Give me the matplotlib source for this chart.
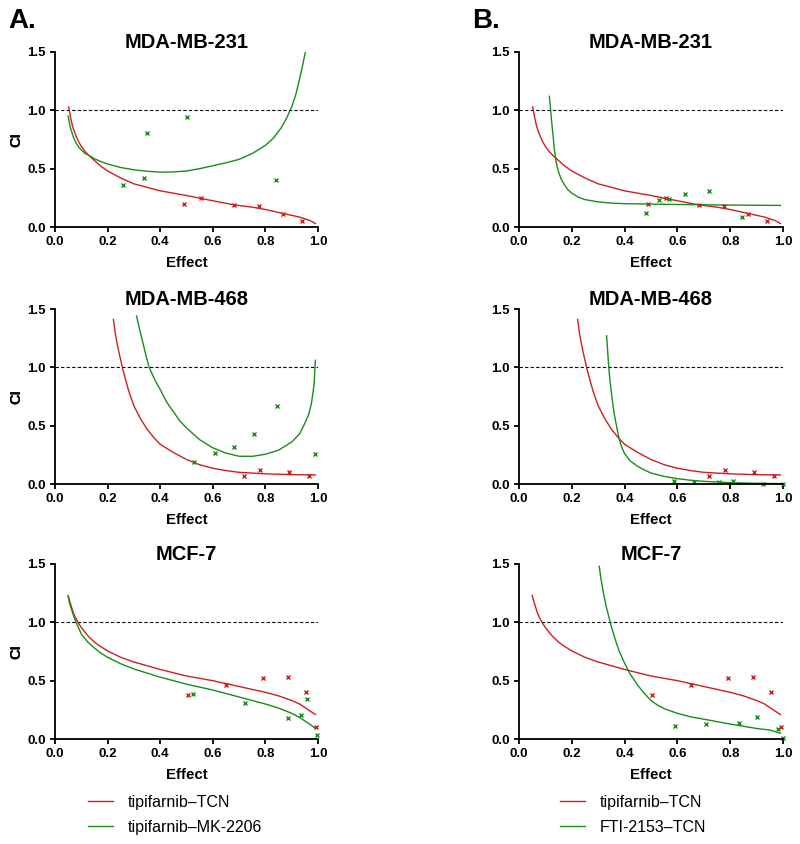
import matplotlib.pyplot as plt

plt.rcParams['font.family'] = ['Liberation Sans', 'DejaVu Sans']

RED = '#cc1f1f'
GREEN = '#1a8c1a'

cells = ['MDA-MB-231', 'MDA-MB-468', 'MCF-7']

# tipifarnib-TCN (same in A and B), curve
tcn_curve_f = [
    [0.052, 0.055, 0.06, 0.065, 0.07, 0.08, 0.09, 0.10, 0.115, 0.13, 0.15, 0.175, 0.20, 0.25, 0.30,
     0.35, 0.40, 0.45, 0.50, 0.555, 0.60, 0.68, 0.75, 0.80, 0.87, 0.90, 0.93, 0.95, 0.97, 0.99],
    [0.222, 0.23, 0.24, 0.256, 0.27, 0.28, 0.30, 0.325, 0.35, 0.375, 0.40, 0.45, 0.50, 0.55, 0.60,
     0.65, 0.70, 0.80, 0.90, 0.99],
    [0.05, 0.055, 0.06, 0.07, 0.08, 0.09, 0.10, 0.125, 0.15, 0.175, 0.20, 0.25, 0.30, 0.40, 0.50,
     0.60, 0.70, 0.80, 0.85, 0.90, 0.93, 0.95, 0.97, 0.99],
]
tcn_curve_ci = [
    [1.03, 0.99, 0.93, 0.88, 0.84, 0.78, 0.73, 0.69, 0.645, 0.61, 0.57, 0.52, 0.48, 0.42, 0.37,
     0.34, 0.31, 0.29, 0.27, 0.245, 0.225, 0.19, 0.17, 0.15, 0.115, 0.10, 0.085, 0.07, 0.055, 0.03],
    [1.41, 1.28, 1.16, 1.00, 0.88, 0.80, 0.67, 0.56, 0.47, 0.40, 0.34, 0.27, 0.21, 0.165, 0.135,
     0.115, 0.10, 0.087, 0.08, 0.078],
    [1.23, 1.19, 1.15, 1.08, 1.03, 0.99, 0.955, 0.885, 0.83, 0.79, 0.755, 0.70, 0.66, 0.596, 0.54,
     0.50, 0.45, 0.40, 0.37, 0.33, 0.30, 0.27, 0.24, 0.21],
]
tcn_pts_f = [
    [0.49, 0.555, 0.68, 0.776, 0.868, 0.938],
    [0.72, 0.78, 0.89, 0.966],
    [0.504, 0.65, 0.79, 0.887, 0.956, 0.994],
]
tcn_pts_ci = [
    [0.20, 0.245, 0.19, 0.18, 0.114, 0.054],
    [0.07, 0.12, 0.10, 0.065],
    [0.38, 0.46, 0.52, 0.53, 0.40, 0.105],
]

# tipifarnib-MK-2206 (panel A)
mk_curve_f = [
    [0.05, 0.055, 0.06, 0.07, 0.08, 0.09, 0.10, 0.115, 0.135, 0.15, 0.175, 0.20, 0.25, 0.30, 0.35,
     0.40, 0.45, 0.50, 0.55, 0.60, 0.65, 0.70, 0.75, 0.80, 0.83, 0.86, 0.88, 0.90, 0.915, 0.93,
     0.94, 0.952],
    [0.31, 0.32, 0.33, 0.345, 0.358, 0.38, 0.40, 0.425, 0.45, 0.475, 0.50, 0.55, 0.60, 0.65, 0.70,
     0.75, 0.80, 0.85, 0.90, 0.93, 0.95, 0.965, 0.975, 0.985, 0.99],
    [0.05, 0.055, 0.06, 0.07, 0.08, 0.09, 0.10, 0.125, 0.15, 0.175, 0.20, 0.25, 0.30, 0.40, 0.50,
     0.60, 0.70, 0.80, 0.85, 0.90, 0.93, 0.95, 0.97, 0.99],
]
mk_curve_ci = [
    [0.95, 0.89, 0.84, 0.77, 0.72, 0.685, 0.66, 0.63, 0.605, 0.585, 0.56, 0.54, 0.51, 0.49, 0.478,
     0.47, 0.472, 0.48, 0.50, 0.525, 0.55, 0.58, 0.63, 0.70, 0.76, 0.85, 0.93, 1.03, 1.13, 1.27,
     1.37, 1.50],
    [1.44, 1.34, 1.25, 1.11, 1.00, 0.89, 0.81, 0.70, 0.62, 0.54, 0.48, 0.38, 0.31, 0.265, 0.238,
     0.237, 0.255, 0.29, 0.36, 0.43, 0.52, 0.60, 0.69, 0.85, 1.06],
    [1.22, 1.17, 1.13, 1.06, 1.00, 0.95, 0.90, 0.83, 0.78, 0.735, 0.70, 0.645, 0.60, 0.53, 0.47,
     0.42, 0.36, 0.30, 0.265, 0.22, 0.185, 0.155, 0.125, 0.09],
]
mk_pts_f = [
    [0.26, 0.34, 0.35, 0.50, 0.84],
    [0.53, 0.61, 0.68, 0.756, 0.846, 0.987],
    [0.523, 0.724, 0.887, 0.937, 0.96, 0.996],
]
mk_pts_ci = [
    [0.36, 0.42, 0.81, 0.94, 0.40],
    [0.19, 0.27, 0.32, 0.43, 0.67, 0.26],
    [0.39, 0.305, 0.177, 0.21, 0.34, 0.034],
]

# FTI-2153-TCN (panel B)
fti_curve_f = [
    [0.115, 0.118, 0.12, 0.123, 0.126, 0.13, 0.133, 0.136, 0.14, 0.145, 0.15, 0.16, 0.17, 0.185,
     0.20, 0.225, 0.25, 0.30, 0.35, 0.40, 0.50, 0.60, 0.80, 0.99],
    [0.332, 0.336, 0.34, 0.345, 0.35, 0.36, 0.37, 0.38, 0.39, 0.40, 0.42, 0.45, 0.475, 0.50, 0.55,
     0.60, 0.65, 0.70, 0.80, 0.90, 1.00],
    [0.304, 0.31, 0.32, 0.33, 0.34, 0.35, 0.365, 0.38, 0.40, 0.42, 0.45, 0.475, 0.50, 0.525, 0.55,
     0.60, 0.65, 0.70, 0.80, 0.90, 0.95, 0.99],
]
fti_curve_ci = [
    [1.12, 1.05, 1.00, 0.92, 0.85, 0.76, 0.69, 0.63, 0.57, 0.51, 0.47, 0.41, 0.37, 0.32,
     0.29, 0.255, 0.235, 0.215, 0.205, 0.20, 0.196, 0.193, 0.188, 0.185],
    [1.27, 1.13, 1.00, 0.88, 0.78, 0.61, 0.49, 0.38, 0.31, 0.26, 0.20, 0.15, 0.12, 0.094, 0.065,
     0.046, 0.032, 0.023, 0.011, 0.006, 0.003],
    [1.48, 1.38, 1.25, 1.14, 1.05, 0.96, 0.85, 0.75, 0.65, 0.56, 0.46, 0.39, 0.33, 0.29, 0.26,
     0.22, 0.19, 0.17, 0.128, 0.09, 0.077, 0.05],
]
fti_pts_f = [
    [0.48, 0.53, 0.57, 0.63, 0.72, 0.846],
    [0.587, 0.663, 0.756, 0.81, 0.924, 1.0],
    [0.59, 0.71, 0.835, 0.90, 0.98, 1.0],
]
fti_pts_ci = [
    [0.12, 0.23, 0.24, 0.28, 0.31, 0.09],
    [0.023, 0.02, 0.015, 0.023, 0.003, 0.003],
    [0.11, 0.13, 0.134, 0.19, 0.083, 0.006],
]

W, H = 800, 844
fig = plt.figure(figsize=(W / 100, H / 100), dpi=100)

col_left = [55, 519]
col_width = [263, 264]
row_top = [52, 309, 564]
row_h = 175

combos = [
    ('tipifarnib\u2013MK-2206', mk_curve_f, mk_curve_ci, mk_pts_f, mk_pts_ci),
    ('FTI-2153\u2013TCN', fti_curve_f, fti_curve_ci, fti_pts_f, fti_pts_ci),
]

for c, (gname, gcf, gcci, gpf, gpci) in enumerate(combos):
    for r, cell in enumerate(cells):
        ax = fig.add_axes([col_left[c] / W, 1 - (row_top[r] + row_h) / H,
                           col_width[c] / W, row_h / H])
        ax.axhline(1.0, color='black', lw=0.8, ls=(0, (3, 2)), zorder=1)
        l1, = ax.plot(tcn_curve_f[r], tcn_curve_ci[r], color=RED, lw=1.0,
                      label='tipifarnib\u2013TCN')
        l2, = ax.plot(gcf[r], gcci[r], color=GREEN, lw=1.0, label=gname)
        ax.plot(tcn_pts_f[r], tcn_pts_ci[r], 'x', color=RED, ms=3.5, mew=1.0,
                clip_on=False)
        ax.plot(gpf[r], gpci[r], 'x', color=GREEN, ms=3.5, mew=1.0,
                clip_on=False)
        ax.set_xlim(0, 1)
        ax.set_ylim(0, 1.5)
        ax.set_xticks([0, 0.2, 0.4, 0.6, 0.8, 1.0])
        ax.set_yticks([0, 0.5, 1.0, 1.5])
        ax.xaxis.set_major_formatter(plt.FormatStrFormatter('%.1f'))
        ax.yaxis.set_major_formatter(plt.FormatStrFormatter('%.1f'))
        for s in ['top', 'right']:
            ax.spines[s].set_visible(False)
        for s in ['left', 'bottom']:
            ax.spines[s].set_linewidth(1.3)
        ax.tick_params(direction='out', length=3.6, width=1.3, pad=3,
                       labelsize=9.5)
        for lab in ax.get_xticklabels() + ax.get_yticklabels():
            lab.set_fontweight('bold')
        ax.set_title(cell, fontsize=14.5, fontweight='bold', pad=1)
        ax.set_xlabel('Effect', fontsize=10.8, fontweight='bold')
        ax.set_ylabel('CI', fontsize=10.5, fontweight='bold')
        ax.xaxis.set_label_coords(0.5, -29 / row_h)
        ax.yaxis.set_label_coords(-(col_left[c] - 23) / col_width[c], 0.5)
        if r == 2:
            fig.legend(handles=[l1, l2], loc='upper left',
                       bbox_to_anchor=([88, 560][c] / W, 1 - 795 / H),
                       frameon=False, fontsize=11.5, handlelength=1.56,
                       handletextpad=0.94, labelspacing=0.63, borderpad=0,
                       borderaxespad=0)

fig.text(8 / W, 1 - 28 / H, 'A.', fontsize=20, fontweight='bold')
fig.text(472 / W, 1 - 28 / H, 'B.', fontsize=20, fontweight='bold')

fig.savefig('out.png', dpi=100)
